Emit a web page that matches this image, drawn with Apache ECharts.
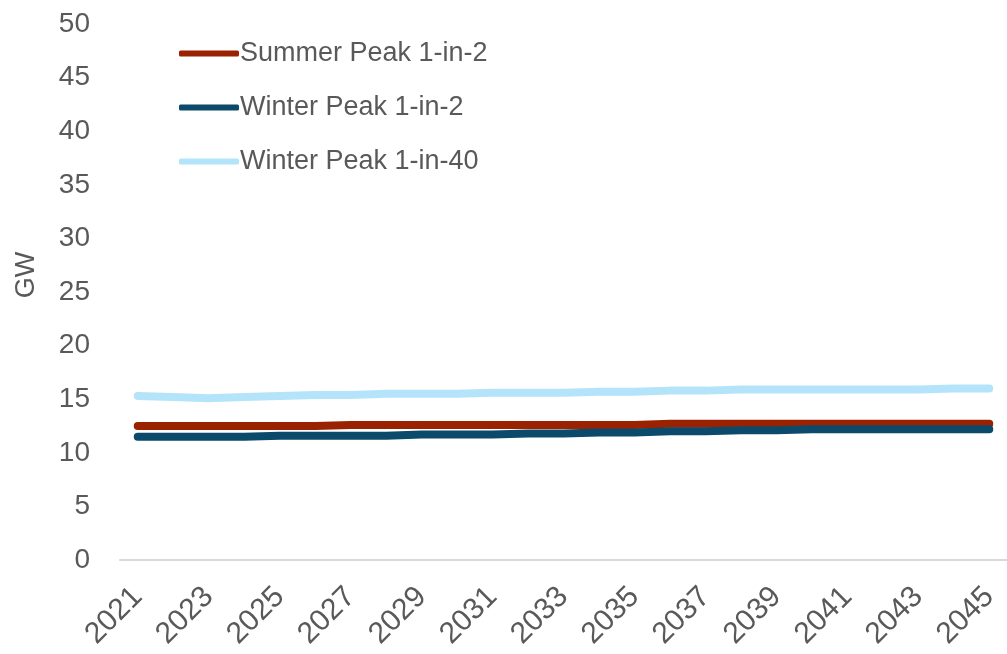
<!DOCTYPE html>
<html><head><meta charset="utf-8">
<script src="https://cdn.jsdelivr.net/npm/echarts@6/dist/echarts.min.js"></script>
<style>html,body{margin:0;padding:0;background:#fff}#c{width:1007px;height:654px}</style>
</head><body><div id="c"></div>
<script>
const years = ['2021','2022','2023','2024','2025','2026','2027','2028','2029','2030','2031','2032','2033','2034','2035','2036','2037','2038','2039','2040','2041','2042','2043','2044','2045'];
const summer1in2 = [12.5,12.5,12.5,12.5,12.5,12.5,12.6,12.6,12.6,12.6,12.6,12.6,12.6,12.6,12.6,12.7,12.7,12.7,12.7,12.7,12.7,12.7,12.7,12.7,12.7];
const winter1in2 = [11.5,11.5,11.5,11.5,11.6,11.6,11.6,11.6,11.7,11.7,11.7,11.8,11.8,11.9,11.9,12.0,12.0,12.1,12.1,12.2,12.2,12.2,12.2,12.2,12.2];
const winter1in40 = [15.3,15.2,15.1,15.2,15.3,15.4,15.4,15.5,15.5,15.5,15.6,15.6,15.6,15.7,15.7,15.8,15.8,15.9,15.9,15.9,15.9,15.9,15.9,16.0,16.0];
const seriesNames = ['Summer Peak 1-in-2','Winter Peak 1-in-2','Winter Peak 1-in-40'];
const colors = ['#9b2200','#0b4a6b','#b4e4fa'];
const font = 'Liberation Sans, Arial, sans-serif';
const chart = echarts.init(document.getElementById('c'));
chart.setOption({
  animation:false,
  color:colors,
  grid:{left:120,right:0,top:24,bottom:94,containLabel:false},
  legend:{
    orient:'vertical', left:174, top:35, itemGap:27,
    itemWidth:60, itemHeight:6, icon:'roundRect',
    textStyle:{fontFamily:font,fontSize:27,color:'#595959',padding:[0,0,0,-4]},
    data:seriesNames
  },
  xAxis:{
    type:'category', data:years, boundaryGap:true,
    axisLine:{lineStyle:{color:'#d9d9d9',width:2}},
    axisTick:{show:false},
    axisLabel:{interval:1,rotate:45,fontFamily:font,fontSize:30,color:'#595959',margin:32}
  },
  yAxis:{
    type:'value', min:0, max:50, interval:5,
    name:'GW', nameLocation:'middle', nameGap:80,
    nameTextStyle:{fontFamily:font,fontSize:27,color:'#595959',padding:[0,0,0,34]},
    axisLine:{show:false}, axisTick:{show:false}, splitLine:{show:false},
    axisLabel:{fontFamily:font,fontSize:28,color:'#595959',margin:30}
  },
  series:[
    {name:seriesNames[0],type:'line',data:summer1in2,symbol:'none',lineStyle:{width:8,cap:'round'},z:3},
    {name:seriesNames[1],type:'line',data:winter1in2,symbol:'none',lineStyle:{width:8,cap:'round'},z:4},
    {name:seriesNames[2],type:'line',data:winter1in40,symbol:'none',lineStyle:{width:8,cap:'round'},z:2}
  ]
});
</script></body></html>
